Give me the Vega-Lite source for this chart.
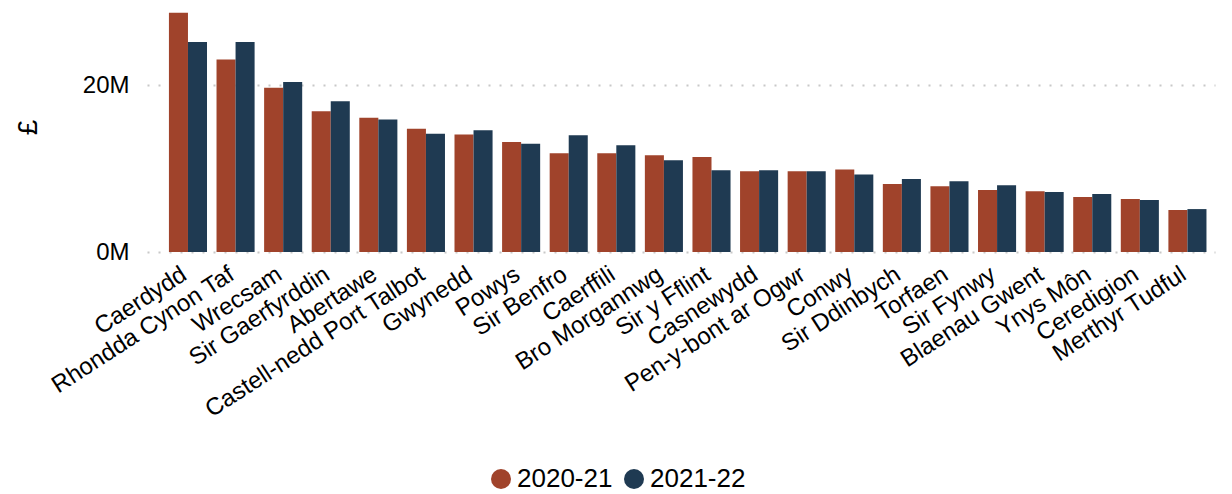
{
  "$schema": "https://vega.github.io/schema/vega-lite/v6.json",
  "width": 1068,
  "height": 250,
  "autosize": "none",
  "padding": {"left": 147, "top": 2, "right": 17, "bottom": 242},
  "background": "white",
  "data": {
    "values": [
      {"area": "Caerdydd", "year": "2020-21", "value": 28700000},
      {"area": "Caerdydd", "year": "2021-22", "value": 25200000},
      {"area": "Rhondda Cynon Taf", "year": "2020-21", "value": 23100000},
      {"area": "Rhondda Cynon Taf", "year": "2021-22", "value": 25200000},
      {"area": "Wrecsam", "year": "2020-21", "value": 19700000},
      {"area": "Wrecsam", "year": "2021-22", "value": 20400000},
      {"area": "Sir Gaerfyrddin", "year": "2020-21", "value": 16900000},
      {"area": "Sir Gaerfyrddin", "year": "2021-22", "value": 18100000},
      {"area": "Abertawe", "year": "2020-21", "value": 16100000},
      {"area": "Abertawe", "year": "2021-22", "value": 15900000},
      {"area": "Castell-nedd Port Talbot", "year": "2020-21", "value": 14800000},
      {"area": "Castell-nedd Port Talbot", "year": "2021-22", "value": 14200000},
      {"area": "Gwynedd", "year": "2020-21", "value": 14100000},
      {"area": "Gwynedd", "year": "2021-22", "value": 14600000},
      {"area": "Powys", "year": "2020-21", "value": 13200000},
      {"area": "Powys", "year": "2021-22", "value": 13000000},
      {"area": "Sir Benfro", "year": "2020-21", "value": 11850000},
      {"area": "Sir Benfro", "year": "2021-22", "value": 14000000},
      {"area": "Caerffili", "year": "2020-21", "value": 11850000},
      {"area": "Caerffili", "year": "2021-22", "value": 12800000},
      {"area": "Bro Morgannwg", "year": "2020-21", "value": 11600000},
      {"area": "Bro Morgannwg", "year": "2021-22", "value": 11000000},
      {"area": "Sir y Fflint", "year": "2020-21", "value": 11400000},
      {"area": "Sir y Fflint", "year": "2021-22", "value": 9800000},
      {"area": "Casnewydd", "year": "2020-21", "value": 9700000},
      {"area": "Casnewydd", "year": "2021-22", "value": 9800000},
      {"area": "Pen-y-bont ar Ogwr", "year": "2020-21", "value": 9700000},
      {"area": "Pen-y-bont ar Ogwr", "year": "2021-22", "value": 9700000},
      {"area": "Conwy", "year": "2020-21", "value": 9900000},
      {"area": "Conwy", "year": "2021-22", "value": 9300000},
      {"area": "Sir Ddinbych", "year": "2020-21", "value": 8150000},
      {"area": "Sir Ddinbych", "year": "2021-22", "value": 8750000},
      {"area": "Torfaen", "year": "2020-21", "value": 7900000},
      {"area": "Torfaen", "year": "2021-22", "value": 8500000},
      {"area": "Sir Fynwy", "year": "2020-21", "value": 7450000},
      {"area": "Sir Fynwy", "year": "2021-22", "value": 8000000},
      {"area": "Blaenau Gwent", "year": "2020-21", "value": 7300000},
      {"area": "Blaenau Gwent", "year": "2021-22", "value": 7200000},
      {"area": "Ynys Môn", "year": "2020-21", "value": 6600000},
      {"area": "Ynys Môn", "year": "2021-22", "value": 6950000},
      {"area": "Ceredigion", "year": "2020-21", "value": 6350000},
      {"area": "Ceredigion", "year": "2021-22", "value": 6250000},
      {"area": "Merthyr Tudful", "year": "2020-21", "value": 5050000},
      {"area": "Merthyr Tudful", "year": "2021-22", "value": 5150000}
    ]
  },
  "mark": {"type": "bar"},
  "encoding": {
    "x": {
      "field": "area",
      "type": "nominal",
      "sort": null,
      "title": null,
      "scale": {"paddingInner": 0.2, "paddingOuter": 0.32, "align": 0.72},
      "axis": {
        "labelAngle": -33,
        "labelFontSize": 24,
        "labelColor": "#000000",
        "labelPadding": 10,
        "labelOffset": -10,
        "labelLimit": 0,
        "ticks": false,
        "domain": false,
        "grid": false
      }
    },
    "xOffset": {"field": "year", "type": "nominal"},
    "y": {
      "field": "value",
      "type": "quantitative",
      "title": "£",
      "scale": {"domain": [0, 30000000]},
      "axis": {
        "values": [0, 20000000],
        "labelExpr": "datum.value / 1000000 + 'M'",
        "labelFontSize": 24,
        "labelColor": "#000000",
        "labelPadding": 18,
        "ticks": false,
        "domain": false,
        "grid": true,
        "gridColor": "#C8C8C8",
        "gridDash": [2, 9],
        "gridWidth": 2,
        "titleFontSize": 28,
        "titleFontWeight": "normal",
        "titleColor": "#000000",
        "titleX": -105,
        "titleY": 125
      }
    },
    "color": {
      "field": "year",
      "type": "nominal",
      "title": null,
      "scale": {"domain": ["2020-21", "2021-22"], "range": ["#A0432B", "#1F3A52"]},
      "legend": {
        "orient": "none",
        "direction": "horizontal",
        "legendX": 341,
        "legendY": 464,
        "padding": 0,
        "symbolType": "circle",
        "symbolSize": 400,
        "symbolOpacity": 1,
        "symbolStrokeWidth": 0,
        "labelFontSize": 26,
        "labelColor": "#000000",
        "labelOffset": 3,
        "columnPadding": 8
      }
    }
  },
  "config": {
    "font": "Liberation Sans",
    "view": {"stroke": null}
  }
}
